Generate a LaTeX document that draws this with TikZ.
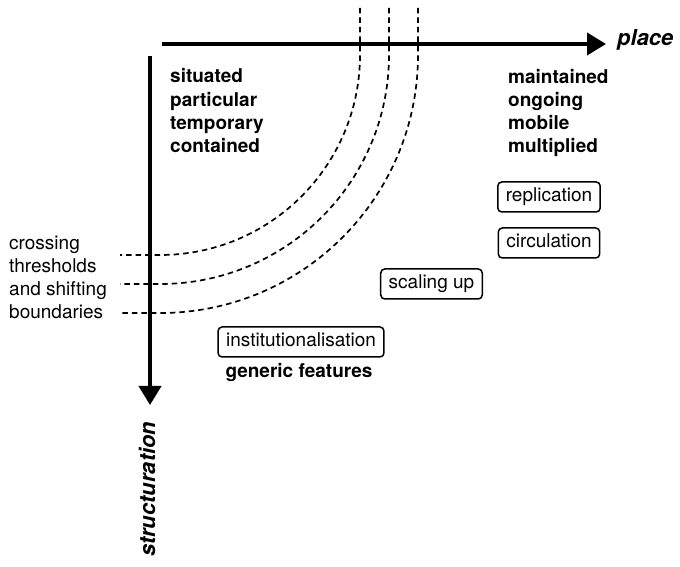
\documentclass[tikz,border=0pt]{standalone}
\usepackage{fontspec}
\setmainfont{TeX Gyre Heros}
\usepackage{tikz}
\usetikzlibrary{arrows.meta, positioning}
\newcommand{\bodyfont}{\fontsize{19}{23.2}\selectfont}
\newcommand{\axisfont}{\fontsize{22}{26}\selectfont\bfseries\itshape}
\newcommand{\boundary}[1]{ % #1: radius of the dashed threshold line
  \draw[boundary] (160+#1,559) -- (160+#1,512) arc (0:-90:#1) -- (120,512-#1); % vertical part, quarter circle, horizontal part
}
\tikzset{
  axis/.style={line width=4pt, -{Triangle[length=19pt,width=22pt]}},
  boundary/.style={line width=1.7pt, dash pattern=on 5.5pt off 4pt},
  stagebox/.style={draw, line width=1.5pt, rounded corners=4pt, inner xsep=8pt, inner ysep=6pt, text height=14pt, text depth=4pt},
  quality/.style={font=\bodyfont\bfseries, align=left, inner sep=0pt, anchor=base west}
}

\begin{document}
\begin{tikzpicture}[x=1pt, y=1pt, font=\bodyfont]
\useasboundingbox (0,0) rectangle (680,567);

% Dashed thresholds around the corner of the axes
\foreach \r in {200,229,258}
{
    \boundary{\r}
}

% Axes
\coordinate (xstart) at (162,523);
\coordinate (xend) at (606,523);
\coordinate (ystart) at (150,511);
\coordinate (yend) at (150,162);
\draw[axis] (xstart) -- (xend);
\draw[axis] (ystart) -- (yend);

% Axis labels
\node[anchor=base west, inner sep=0pt, font=\axisfont] (place) at (617,521) {place};
\node[anchor=base west, inner sep=0pt, rotate=90, font=\axisfont] (structuration) at (155,10) {structuration};

% Qualities
\node[quality] (situated) at (170,414.5) {situated\\particular\\temporary\\contained};
\node[quality] (maintained) at (508,414) {maintained\\ongoing\\mobile\\multiplied};
\node[anchor=base west, align=left, inner sep=0pt] (crossing) at (9,248) {crossing\\thresholds\\and shifting\\boundaries};

% Stages
\node[stagebox] (replication) at (549,370) {replication};
\node[stagebox] (circulation) at (549,324) {circulation};
\node[stagebox] (scaling) at (431.5,283) {scaling up};
\node[stagebox] (institution) at (301,225) {institutionalisation};
\node[font=\bodyfont\bfseries, anchor=base, inner sep=0pt] (generic) at (299,189) {generic features};

\end{tikzpicture}
\end{document}
